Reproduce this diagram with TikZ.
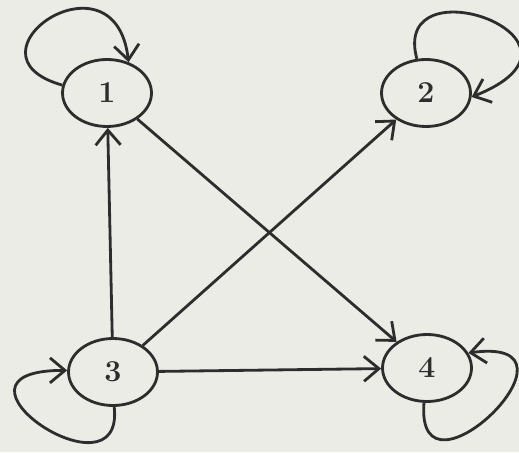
\documentclass[tikz,border=0pt]{standalone}
\usetikzlibrary{arrows.meta,shapes.geometric}
\definecolor{paper}{RGB}{236,236,231}
\definecolor{pencil}{RGB}{45,45,45}
\begin{document}
\begin{tikzpicture}[x=0.02cm,y=-0.02cm, >={Straight Barb[length=3mm,width=5mm]},
    state/.style={draw=pencil, ellipse, line width=1.6pt, minimum width=1.78cm, minimum height=1.34cm, inner sep=0pt, font=\LARGE\bfseries, text=pencil},
    link/.style={draw=pencil, line width=1.6pt}]
    %paper
    \fill[paper] (0,0) rectangle (519,452);
    \useasboundingbox (0,0) rectangle (519,452);

    %states
    \node[state] (n1) at (107,93) {1};
    \node[state] (n2) at (426,93) {2};
    \node[state] (n3) at (113,372) {3};
    \node[state] (n4) at (427,368) {4};

    %edges
    \draw[link,->] (n3) -- (n1);
    \draw[link,->] (n3) -- (n2);
    \draw[link,->] (n1) -- (n4);
    \draw[link,->] (n3) -- (n4);

    %loops
    \draw[link,->] (n1.170) .. controls (-45,55) and (115,-55) .. (n1.55);
    \draw[link,->] (n2.105) .. controls (390,-40) and (615,40) .. (n2.355);
    \draw[link,->] (n3.272) .. controls (125,505) and (-75,370) .. (n3.178);
    \draw[link,->] (n4.265) .. controls (415,515) and (600,335) .. (n4.20);
\end{tikzpicture}
\end{document}
